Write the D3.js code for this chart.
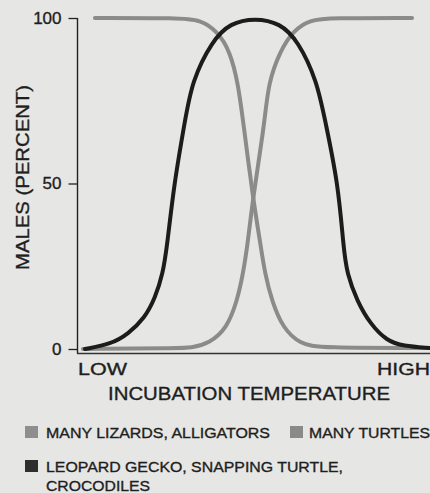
<!DOCTYPE html>
<html>
<head>
<meta charset="utf-8">
<script src="https://cdn.jsdelivr.net/npm/d3@7"></script>
<style>
  html, body { margin: 0; padding: 0; background: #e6e6e4; }
  svg { display: block; }
  text { font-family: "Liberation Sans", Arial, Helvetica, sans-serif; fill: #1e1e1e; stroke: #1e1e1e; stroke-width: 0.35px; }
</style>
</head>
<body>
<div id="chart"></div>
<script>
// ---- data ----
const seriesNames = ["MANY LIZARDS, ALLIGATORS", "MANY TURTLES", "LEOPARD GECKO, SNAPPING TURTLE,"];
const yTickValues = [0, 50, 100];
const xEndLabels = ["LOW", "HIGH"];
const xTitle = "INCUBATION TEMPERATURE";
const yTitle = "MALES (PERCENT)";

// temperature on a 0 (low) .. 100 (high) relative scale, percent males
const lizardsT = [4.8, 29.0, 34.7, 39.5, 43.2, 45.5, 46.9, 49.7, 51.7, 53.1, 55.1, 58.2, 63.1, 68.8, 100];
const lizardsP = [100, 100, 99.4, 96.1, 90.0, 80.1, 68.9, 45.6, 32.6, 22.7, 14.5, 6.3, 1.5, 0.3, 0.3];

const turtlesT = [1.4, 29.0, 31.8, 37.5, 42.3, 45.2, 46.9, 48.3, 49.7, 53.1, 54.0, 57.4, 61.1, 65.9, 71.6, 94.9];
const turtlesP = [0, 0.3, 0.3, 1.8, 6.3, 14.5, 22.7, 32.6, 45.6, 68.9, 80.1, 90.0, 96.1, 99.4, 100, 100];

const geckoT = [2.0, 9.4, 14.2, 19.0, 21.9, 24.1, 25.3, 27.3, 30.4, 32.4, 38.1, 43.2, 50.3, 57.4, 62.5, 67.9, 70.2, 73.9, 75.4, 76.4, 79.3, 83.0, 87.8, 92.3, 100];
const geckoP = [0, 1.5, 4.5, 9.4, 15.4, 22.7, 31.0, 50.0, 69.0, 81.0, 93.1, 98.5, 100, 98.5, 93.1, 81.0, 69.0, 50.0, 31.0, 22.7, 14.5, 7.6, 2.4, 0.9, 0.3];

// ---- drawing ----
const W = 430, H = 493;
const svg = d3.select("#chart").append("svg").attr("width", W).attr("height", H);

svg.append("rect").attr("width", W).attr("height", H).attr("fill", "#e6e6e4");

const x = d3.scaleLinear().domain([0, 100]).range([78, 430]);
const y = d3.scaleLinear().domain([0, 100]).range([349, 18]);

const line = d3.line().x(d => x(d[0])).y(d => y(d[1])).curve(d3.curveBasis);
const zip = (a, b) => a.map((v, i) => [v, b[i]]);

// y axis
const yAxis = d3.axisLeft(y).tickValues(yTickValues).tickSize(9).tickSizeOuter(0).tickPadding(7);
const gy = svg.append("g").attr("transform", "translate(77.5,0)").call(yAxis);
gy.select(".domain").remove();
gy.selectAll(".tick line").attr("stroke", "#222").attr("stroke-width", 1.3);
gy.selectAll(".tick text").attr("font-size", 17).attr("fill", "#1e1e1e")
  .style("font-family", '"Liberation Sans", Arial, sans-serif');
svg.append("line").attr("x1", 77.5).attr("x2", 77.5).attr("y1", y(100)).attr("y2", 353.5)
  .attr("stroke", "#222").attr("stroke-width", 1.4);
// x axis line
svg.append("line").attr("x1", 77).attr("x2", 430).attr("y1", 353.5).attr("y2", 353.5)
  .attr("stroke", "#333").attr("stroke-width", 1.4);

// curves
const grey = "#8b8b8b";
svg.append("path").datum(zip(lizardsT, lizardsP)).attr("d", line)
  .attr("fill", "none").attr("stroke", grey).attr("stroke-width", 4).attr("stroke-linecap", "round");
svg.append("path").datum(zip(turtlesT, turtlesP)).attr("d", line)
  .attr("fill", "none").attr("stroke", grey).attr("stroke-width", 4).attr("stroke-linecap", "round");
svg.append("path").datum(zip(geckoT, geckoP)).attr("d", line)
  .attr("fill", "none").attr("stroke", "#1c1c1c").attr("stroke-width", 4).attr("stroke-linecap", "round");

// axis titles
svg.append("text").attr("transform", "translate(29,177.5) rotate(-90)")
  .attr("text-anchor", "middle").attr("font-size", 19)
  .attr("textLength", 185).attr("lengthAdjust", "spacingAndGlyphs").text(yTitle);
svg.append("text").attr("x", 78).attr("y", 375).attr("font-size", 17)
  .attr("textLength", 49).attr("lengthAdjust", "spacingAndGlyphs").text(xEndLabels[0]);
svg.append("text").attr("x", 377).attr("y", 375).attr("font-size", 17)
  .attr("textLength", 53).attr("lengthAdjust", "spacingAndGlyphs").text(xEndLabels[1]);
svg.append("text").attr("x", 108).attr("y", 400).attr("font-size", 19)
  .attr("textLength", 282).attr("lengthAdjust", "spacingAndGlyphs").text(xTitle);

// legend
const legend = [
  { name: seriesNames[0], color: "#8e8e8e", sx: 25, sy: 426, tx: 46, ty: 438, len: 224 },
  { name: seriesNames[1], color: "#8a8a8a", sx: 290, sy: 426, tx: 309, ty: 438, len: 121 },
  { name: seriesNames[2], color: "#2e2e2e", sx: 25, sy: 460, tx: 46, ty: 472, len: 297 }
];
legend.forEach(d => {
  svg.append("rect").attr("x", d.sx).attr("y", d.sy).attr("width", 13).attr("height", 12).attr("fill", d.color);
  svg.append("text").attr("x", d.tx).attr("y", d.ty).attr("font-size", 15)
    .attr("textLength", d.len).attr("lengthAdjust", "spacingAndGlyphs").text(d.name);
});
svg.append("text").attr("x", 46).attr("y", 491).attr("font-size", 15)
  .attr("textLength", 104).attr("lengthAdjust", "spacingAndGlyphs").text("CROCODILES");
</script>
</body>
</html>
